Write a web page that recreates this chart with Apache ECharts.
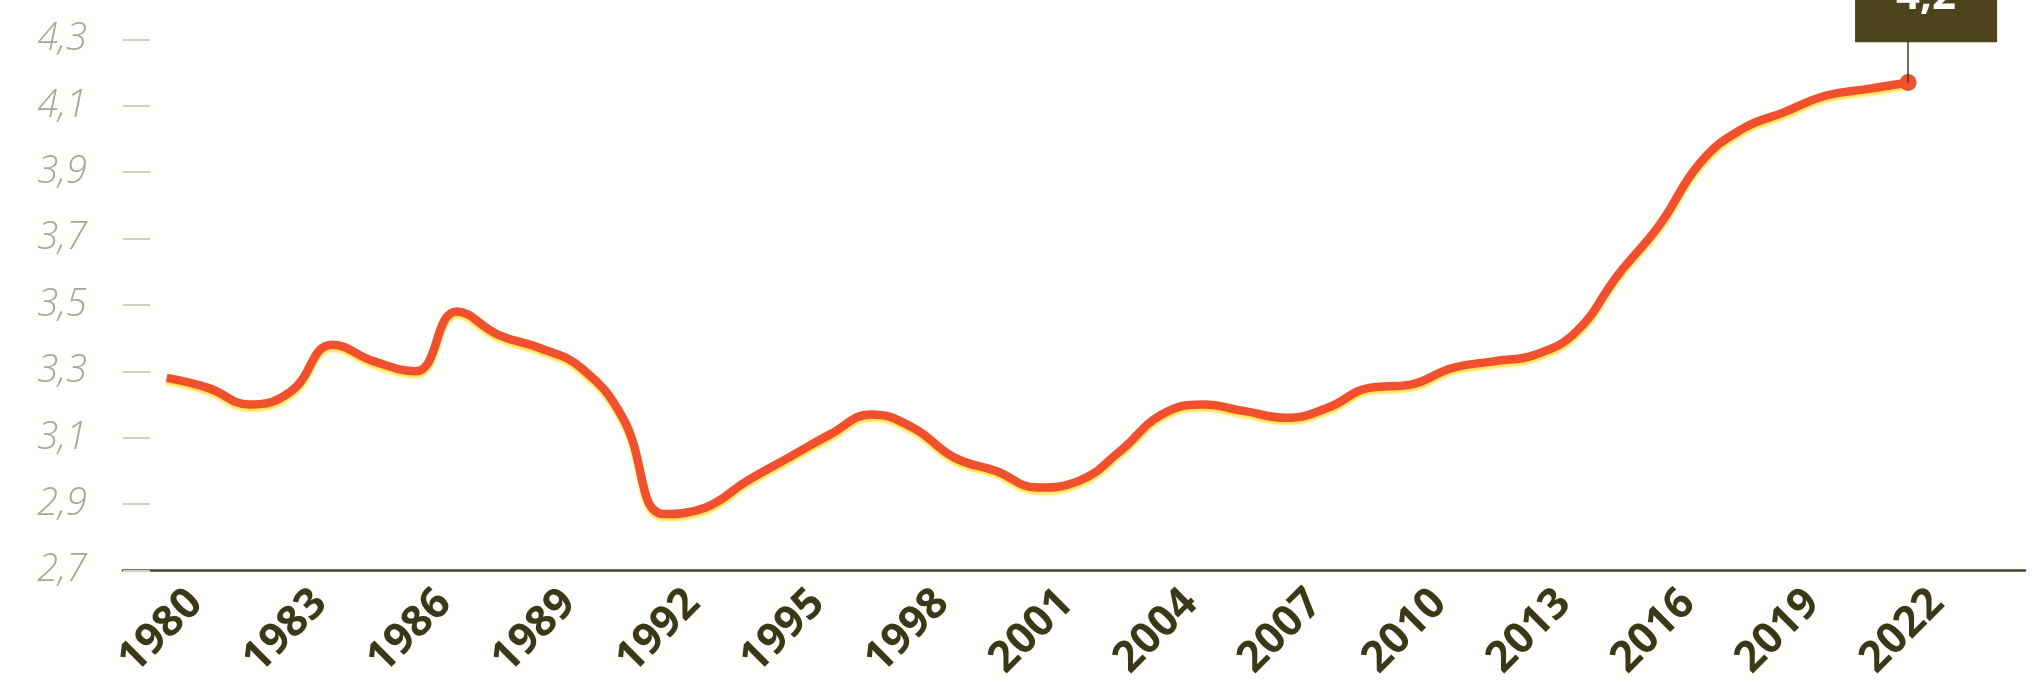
<!DOCTYPE html>
<html>
<head>
<meta charset="utf-8">
<script src="https://cdn.jsdelivr.net/npm/echarts@6/dist/echarts.min.js"></script>
<style>
html,body{margin:0;padding:0;background:#fffffd;}
#chart{width:2043px;height:689px;}
</style>
</head>
<body>
<div id="chart"></div>
<script>
// ---- data ----
const years = [1980,1981,1982,1983,1984,1985,1986,1987,1988,1989,1990,1991,1992,1993,1994,1995,1996,1997,1998,1999,2000,2001,2002,2003,2004,2005,2006,2007,2008,2009,2010,2011,2012,2013,2014,2015,2016,2017,2018,2019,2020,2021,2022];
const values = [3.28,3.25,3.20,3.24,3.38,3.33,3.30,3.48,3.41,3.37,3.31,3.16,2.87,2.89,2.97,3.04,3.11,3.17,3.13,3.04,3.00,2.95,2.97,3.06,3.17,3.20,3.18,3.16,3.19,3.25,3.26,3.31,3.33,3.35,3.42,3.59,3.74,3.93,4.03,4.08,4.13,4.15,4.17];
const xTickYears = [1980,1983,1986,1989,1992,1995,1998,2001,2004,2007,2010,2013,2016,2019,2022];
const yTickValues = [2.7,2.9,3.1,3.3,3.5,3.7,3.9,4.1,4.3];

// ---- layout ----
const X_MIN = 1978.946, X_MAX = 2024.82;
const LABEL_SHIFT = 0.7; // years: rotated labels sit slightly right of their year
const lastIdx = values.length - 1;
const fmt = v => v.toFixed(1).replace('.', ',');

const chart = echarts.init(document.getElementById('chart'), null, {renderer: 'canvas'});
chart.setOption({
  backgroundColor: '#fffffd',
  animation: false,
  grid: {left: 123, right: 18, top: 39.3, bottom: 118.5, containLabel: false, outerBoundsMode: 'none'},
  xAxis: [
    {
      type: 'value', min: X_MIN, max: X_MAX,
      axisLine: {show: true, lineStyle: {color: '#45452c', width: 2.5}},
      axisTick: {show: false}, axisLabel: {show: false}, splitLine: {show: false}
    },
    {
      type: 'value', position: 'bottom', min: X_MIN - LABEL_SHIFT, max: X_MAX - LABEL_SHIFT,
      axisLine: {show: false}, axisTick: {show: false}, splitLine: {show: false},
      axisLabel: {
        show: true, customValues: xTickYears, rotate: 45, margin: 26,
        fontFamily: 'Open Sans', fontWeight: 'bold', fontSize: 43, color: '#3a3816',
        formatter: v => String(v)
      }
    }
  ],
  yAxis: {
    type: 'value', min: 2.7, max: 4.3,
    axisLine: {show: false},
    splitLine: {show: false},
    axisTick: {show: true, inside: true, length: 27, customValues: yTickValues, lineStyle: {color: '#cfcfc4', width: 2}},
    axisLabel: {
      show: true, customValues: yTickValues, margin: 36,
      fontFamily: 'Open Sans', fontStyle: 'italic', fontWeight: 300, fontSize: 38, color: '#a6a698',
      formatter: v => fmt(v)
    }
  },
  series: [{
    type: 'line',
    xAxisIndex: 0,
    data: years.map((y, i) => [y, values[i]]),
    smooth: 0.45,
    showSymbol: true,
    symbol: 'circle',
    symbolSize: (v, p) => p.dataIndex === lastIdx ? 17 : 0,
    itemStyle: {color: '#f0502d'},
    lineStyle: {color: '#f0502d', width: 8.5, shadowColor: 'rgba(255,226,60,0.85)', shadowBlur: 2, shadowOffsetY: 3},
    z: 3,
    markLine: {
      silent: true,
      symbol: ['none', 'none'],
      lineStyle: {color: '#3a3a28', width: 1.5, type: 'solid'},
      label: {
        show: true, position: 'end', distance: 2, offset: [18, 5],
        formatter: fmt(values[lastIdx]),
        backgroundColor: '#4d431c', color: '#ffffff',
        fontFamily: 'Open Sans', fontWeight: 'bold', fontSize: 42, lineHeight: 42,
        padding: [8, 41, 24, 41]
      },
      data: [[
        {coord: [years[lastIdx], values[lastIdx]]},
        {coord: [years[lastIdx], 4.3]}
      ]]
    }
  }]
});
</script>
</body>
</html>
